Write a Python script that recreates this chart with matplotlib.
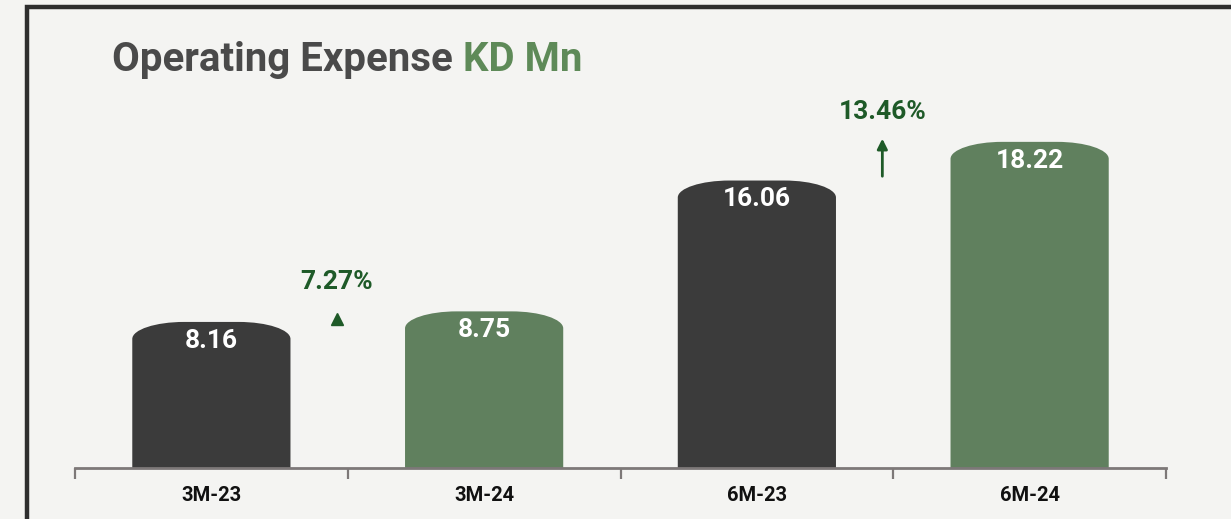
import matplotlib
matplotlib.use("Agg")
import matplotlib.pyplot as plt
from matplotlib.path import Path
from matplotlib.patches import PathPatch, Rectangle

FONT = "Roboto"

categories = ["3M-23", "3M-24", "6M-23", "6M-24"]
values = [8.16, 8.75, 16.06, 18.22]
growth_labels = ["7.27%", "13.46%"]

DARK = "#3b3b3b"
GREEN = "#60805e"
TEXT_GREEN = "#1e5a28"
BG = "#f4f4f2"
bar_colors = [DARK, GREEN, DARK, GREEN]

W, H, DPI = 1231, 519, 100
fig = plt.figure(figsize=(W / DPI, H / DPI), dpi=DPI, facecolor=BG)

# outer frame (left and top edges visible)
fig.patches.append(Rectangle((27 / W, -0.1), 1.2, (519 - 7) / H + 0.1,
                             transform=fig.transFigure, fill=False,
                             edgecolor="#2e2e2e", linewidth=3.2))

ax = fig.add_axes([75 / W, 51 / H, (1166 - 75) / W, 447.5 / H])
ax.set_facecolor("none")
ax.set_xlim(-0.5, 3.5)
ax.set_ylim(0, 25)

x = list(range(len(categories)))
bars = ax.bar(x, values, width=0.58, color=bar_colors)

# rounded caps on top of each bar
rx, ry, k = 0.19, 0.95, 0.55
for rect, col in zip(bars, bar_colors):
    x0, w, h = rect.get_x(), rect.get_width(), rect.get_height()
    x1 = x0 + w
    verts = [(x0, 0), (x0, h - ry),
             (x0, h - ry + k * ry), (x0 + rx - k * rx, h), (x0 + rx, h),
             (x1 - rx, h),
             (x1 - rx + k * rx, h), (x1, h - ry + k * ry), (x1, h - ry),
             (x1, 0), (x0, 0)]
    codes = [Path.MOVETO, Path.LINETO,
             Path.CURVE4, Path.CURVE4, Path.CURVE4,
             Path.LINETO,
             Path.CURVE4, Path.CURVE4, Path.CURVE4,
             Path.LINETO, Path.CLOSEPOLY]
    rect.set_visible(False)
    ax.add_patch(PathPatch(Path(verts, codes), facecolor=col, edgecolor="none"))
    ax.text(rect.get_x() + w / 2, h - 1.05, f"{h:.2f}", ha="center", va="center",
            color="white", fontsize=19, fontweight="bold", family=FONT)

# growth annotations
ax.text(0.46, 10.4, growth_labels[0], ha="center", va="center", color=TEXT_GREEN,
        fontsize=19, fontweight="bold", family=FONT)
ax.plot([0.46], [8.3], marker="^", markersize=9, color=TEXT_GREEN)
ax.text(2.46, 19.9, growth_labels[1], ha="center", va="center", color=TEXT_GREEN,
        fontsize=19, fontweight="bold", family=FONT)
ax.annotate("", xy=(2.46, 18.4), xytext=(2.46, 16.3),
            arrowprops=dict(arrowstyle="-|>", color=TEXT_GREEN, lw=2,
                            mutation_scale=15, shrinkA=0, shrinkB=0))

# axes styling
for s in ["top", "right", "left"]:
    ax.spines[s].set_visible(False)
ax.spines["bottom"].set_color("#7d7878")
ax.spines["bottom"].set_linewidth(2)
ax.set_yticks([])
ax.set_xticks([-0.5, 0.5, 1.5, 2.5, 3.5], minor=False)
ax.set_xticklabels([])
ax.tick_params(axis="x", which="major", length=8, width=1.6, color="#7d7878")
ax.set_xticks(x, minor=True)
ax.set_xticklabels(categories, minor=True, fontsize=14.5, fontweight="bold",
                   family=FONT, color="#111111")
ax.tick_params(axis="x", which="minor", length=0, pad=13)

# title
t1 = fig.text(112 / W, 1 - 60 / H, "Operating Expense ", ha="left", va="center",
              fontsize=29, fontweight="bold", family=FONT, color="#4a4a4a")
fig.canvas.draw()
bb = t1.get_window_extent()
fig.text(bb.x1 / W, 1 - 60 / H, "KD Mn", ha="left", va="center",
         fontsize=29, fontweight="bold", family=FONT, color="#5e8a58")

fig.savefig("out.png", dpi=DPI, facecolor=BG)
